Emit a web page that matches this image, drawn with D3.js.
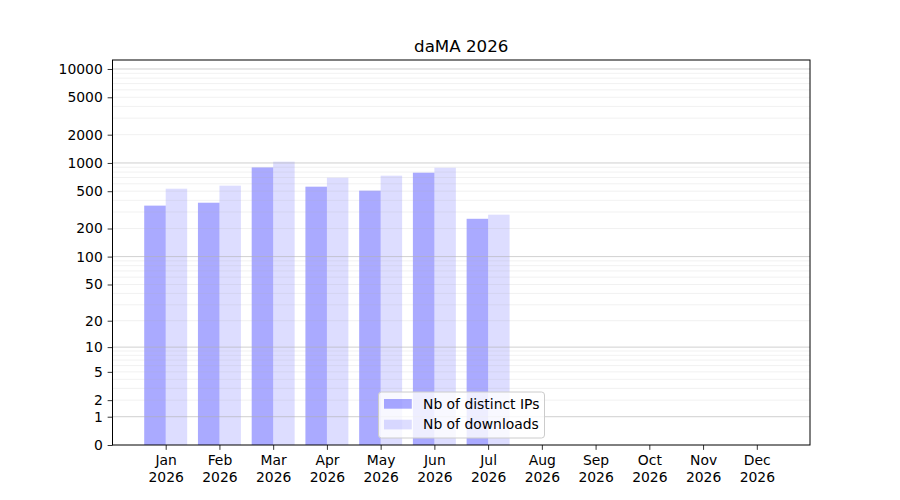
<!DOCTYPE html>
<html>
<head>
<meta charset="utf-8">
<script src="https://cdn.jsdelivr.net/npm/d3@7"></script>
<style>
  body { margin: 0; background: #fff; }
  text { font-family: "DejaVu Sans", sans-serif; }
</style>
</head>
<body>
<div class="report"></div>
<script>
// monthly stats
var months = ["Jan", "Feb", "Mar", "Apr", "May", "Jun", "Jul", "Aug", "Sep", "Oct", "Nov", "Dec"];
var year = "2026";
var distinctIPs = [351, 377, 897, 559, 507, 788, 254, 0, 0, 0, 0, 0];
var downloads = [532, 573, 1032, 697, 732, 890, 281, 0, 0, 0, 0, 0];
var yTicks = [0, 1, 2, 5, 10, 20, 50, 100, 200, 500, 1000, 2000, 5000, 10000];
var seriesNames = ["Nb of distinct IPs", "Nb of downloads"];

var width = 900, height = 500,
    margin = {left: 112.5, right: 90, top: 60, bottom: 55},
    tickLen = 4.86, fontSize = 13.9;

var svg = d3.select(".report").append("svg")
    .attr("width", width).attr("height", height);

var x = d3.scaleLinear()
    .domain([0.01, 12.99])
    .range([margin.left, width - margin.right]);

// the y axis is log10(1 + v), same shape as a symlog with constant 1
var y = d3.scaleSymlog()
    .constant(1)
    .domain([0, 12466])
    .range([height - margin.bottom, margin.top]);

var barW = 0.4;

// bars first, grid drawn over them like matplotlib does
var bars = svg.append("g");
bars.selectAll(".ip")
    .data(distinctIPs)
    .enter().append("rect")
    .attr("class", "ip")
    .attr("x", function (d, i) { return x(i + 1 - barW); })
    .attr("width", x(barW) - x(0))
    .attr("y", function (d) { return y(d); })
    .attr("height", function (d) { return y(0) - y(d); })
    .attr("fill", "#0000ff")
    .attr("fill-opacity", 0.333);

bars.selectAll(".dl")
    .data(downloads)
    .enter().append("rect")
    .attr("class", "dl")
    .attr("x", function (d, i) { return x(i + 1); })
    .attr("width", x(barW) - x(0))
    .attr("y", function (d) { return y(d); })
    .attr("height", function (d) { return y(0) - y(d); })
    .attr("fill", "#0000ff")
    .attr("fill-opacity", 0.133);

// grid: major on the decades, minor on 2..9 of each decade
var majors = [1, 10, 100, 1000, 10000];
var minors = [];
[1, 10, 100, 1000].forEach(function (dec) {
    for (var k = 2; k <= 9; k++) minors.push(dec * k);
});

var grid = svg.append("g");
grid.selectAll(".minor")
    .data(minors)
    .enter().append("line")
    .attr("x1", margin.left).attr("x2", width - margin.right)
    .attr("y1", function (d) { return y(d); })
    .attr("y2", function (d) { return y(d); })
    .attr("stroke", "#b0b0b0").attr("stroke-opacity", 0.22)
    .attr("stroke-width", 0.8);

grid.selectAll(".major")
    .data(majors)
    .enter().append("line")
    .attr("x1", margin.left).attr("x2", width - margin.right)
    .attr("y1", function (d) { return y(d); })
    .attr("y2", function (d) { return y(d); })
    .attr("stroke", "#b0b0b0").attr("stroke-opacity", 0.75)
    .attr("stroke-width", 0.8);

// axes
var yAxis = svg.append("g")
    .attr("transform", "translate(" + margin.left + ",0)")
    .call(d3.axisLeft(y).tickValues(yTicks).tickFormat(d3.format("d"))
        .tickSize(tickLen).tickPadding(4.86).tickSizeOuter(0));

var xAxis = svg.append("g")
    .attr("transform", "translate(0," + (height - margin.bottom) + ")")
    .call(d3.axisBottom(x).tickValues(d3.range(1, 13)).tickFormat("")
        .tickSize(tickLen).tickSizeOuter(0));

[yAxis, xAxis].forEach(function (a) {
    a.select(".domain").remove();
    a.selectAll("line").attr("stroke", "#000").attr("stroke-width", 0.8);
    a.selectAll("text").attr("font-size", fontSize).attr("fill", "#000")
        .attr("font-family", "DejaVu Sans");
});

xAxis.selectAll(".tick").each(function (d) {
    var t = d3.select(this).append("text")
        .attr("text-anchor", "middle")
        .attr("font-size", fontSize)
        .attr("font-family", "DejaVu Sans")
        .attr("fill", "#000");
    t.append("tspan").attr("x", 0).attr("y", 20.3).text(months[d - 1]);
    t.append("tspan").attr("x", 0).attr("y", 37).text(year);
});

svg.append("rect")
    .attr("x", margin.left).attr("y", margin.top)
    .attr("width", width - margin.left - margin.right)
    .attr("height", height - margin.top - margin.bottom)
    .attr("fill", "none").attr("stroke", "#000").attr("stroke-width", 1);

// title
svg.append("text")
    .attr("x", (margin.left + width - margin.right) / 2)
    .attr("y", 52)
    .attr("text-anchor", "middle")
    .attr("font-size", 16.7)
    .text("daMA " + year);

// legend
var legend = svg.append("g").attr("transform", "translate(378.5,392)");
legend.append("rect")
    .attr("width", 166).attr("height", 46)
    .attr("rx", 3).attr("ry", 3)
    .attr("fill", "#fff").attr("fill-opacity", 0.8)
    .attr("stroke", "#cccccc").attr("stroke-width", 1);

var items = legend.selectAll(".item")
    .data(seriesNames)
    .enter().append("g")
    .attr("transform", function (d, i) { return "translate(0," + (i * 20.7) + ")"; });

items.append("rect")
    .attr("x", 5.5).attr("y", 7)
    .attr("width", 27.8).attr("height", 9.7)
    .attr("fill", "#0000ff")
    .attr("fill-opacity", function (d, i) { return i === 0 ? 0.333 : 0.133; });

items.append("text")
    .attr("x", 44.5).attr("y", 16.8)
    .attr("font-size", fontSize)
    .text(function (d) { return d; });
</script>
</body>
</html>
